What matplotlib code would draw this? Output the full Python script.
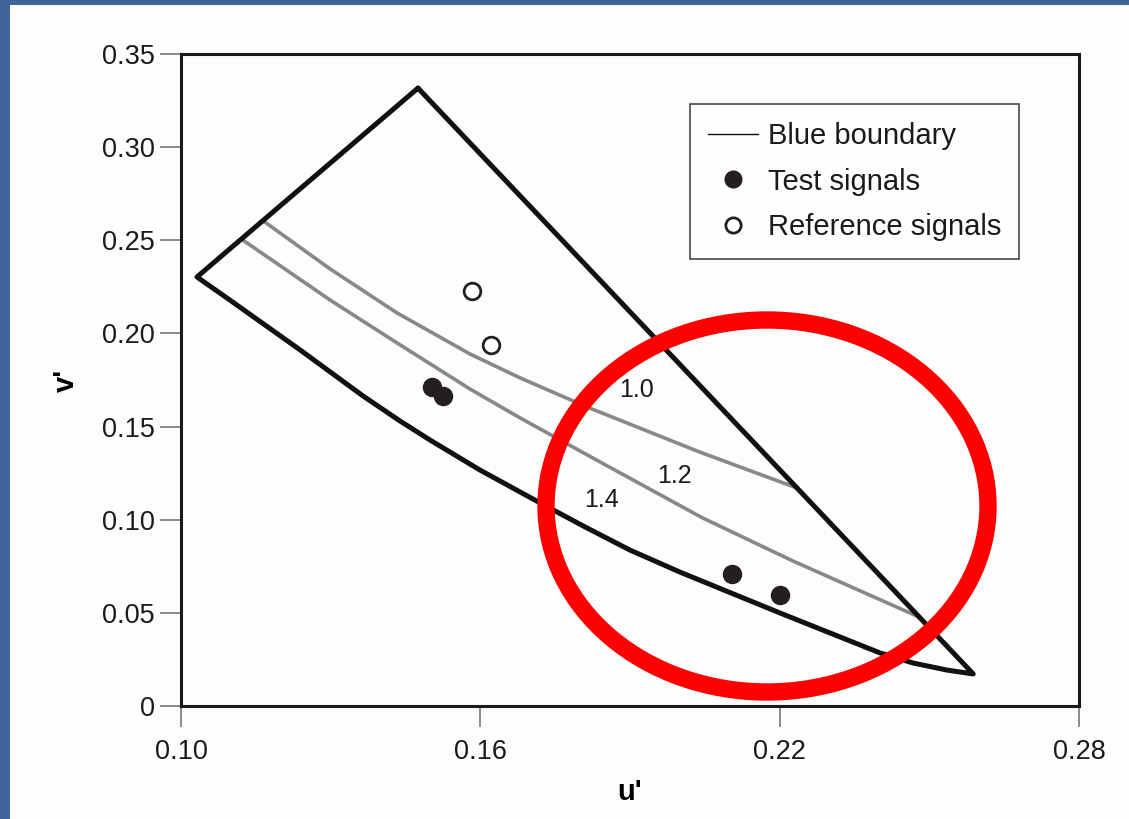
import matplotlib
matplotlib.use("Agg")
import matplotlib.pyplot as plt
from matplotlib.patches import Ellipse, Rectangle
from matplotlib.lines import Line2D

plt.rcParams['font.family'] = ['Liberation Sans', 'DejaVu Sans']

# blue boundary (apex -> left vertex -> lower curve -> right tip -> apex)
bound_u = [0.1475, 0.1032, 0.1098, 0.1239, 0.1365, 0.1439, 0.1499, 0.1599,
           0.1720, 0.1810, 0.1900, 0.2000, 0.2201, 0.2401, 0.2467, 0.2535,
           0.2588, 0.1475]
bound_v = [0.3317, 0.2303, 0.2179, 0.1911, 0.1664, 0.1530, 0.1428, 0.1267,
           0.1090, 0.0961, 0.0837, 0.0719, 0.0499, 0.0285, 0.0231, 0.0193,
           0.0172, 0.3317]

# iso-ratio curves
c10_u = [0.1168, 0.1299, 0.1433, 0.1579, 0.1680, 0.1814, 0.2040, 0.2235]
c10_v = [0.2598, 0.2346, 0.2110, 0.1890, 0.1761, 0.1605, 0.1363, 0.1170]
c12_u = [0.1124, 0.1299, 0.1433, 0.1579, 0.1680, 0.1840, 0.2046, 0.2227, 0.2475]
c12_v = [0.2501, 0.2179, 0.1949, 0.1702, 0.1546, 0.1310, 0.1009, 0.0778, 0.0483]

curve_labels = ['1.0', '1.2', '1.4']
label_u = [0.1914, 0.1990, 0.1842]
label_v = [0.1696, 0.1235, 0.1106]

test_u = [0.1503, 0.1525, 0.2104, 0.2201]
test_v = [0.1712, 0.1664, 0.0709, 0.0596]
ref_u = [0.1583, 0.1621]
ref_v = [0.2228, 0.1938]

xticks = [0.10, 0.16, 0.22, 0.28]
xtick_labels = ['0.10', '0.16', '0.22', '0.28']
yticks = [0, 0.05, 0.10, 0.15, 0.20, 0.25, 0.30, 0.35]
ytick_labels = ['0', '0.05', '0.10', '0.15', '0.20', '0.25', '0.30', '0.35']

fig = plt.figure(figsize=(11.29, 8.19), dpi=100)
fig.patch.set_facecolor('#41649a')

# white slide area behind everything
bg = fig.add_axes([0, 0, 1, 1], zorder=-1)
bg.set_axis_off()
bg.add_patch(Rectangle((10/1129, 0), 1, 1 - 5/819, transform=bg.transAxes,
                       facecolor='#fdfdfd', edgecolor='none'))

ax = fig.add_axes([181/1129, 113/819, 898/1129, 652/819], zorder=1)
ax.set_facecolor('#fdfdfd')

ax.plot(bound_u, bound_v, color='#111111', lw=3.6, solid_joinstyle='round',
        solid_capstyle='round', zorder=3)
ax.plot(c10_u, c10_v, color='#888888', lw=2.6, solid_joinstyle='round', zorder=2)
ax.plot(c12_u, c12_v, color='#888888', lw=2.6, solid_joinstyle='round', zorder=2)
for t, u, v in zip(curve_labels, label_u, label_v):
    ax.text(u, v, t, fontsize=18, ha='center', va='center', color='#1a1a1a')

ax.plot(test_u, test_v, 'o', ms=13, color='#231f20', zorder=4)
ax.plot(ref_u, ref_v, 'o', ms=12, mfc='white', mec='#231f20', mew=2, zorder=4)

# red highlight ring
ell = Ellipse((0.21746, 0.10736), 0.0886, 0.1997, fill=False, edgecolor='#ff0000',
              lw=12.5, zorder=5, clip_on=False)
ax.add_patch(ell)

ax.set_xlim(0.10, 0.28)
ax.set_ylim(0, 0.35)
ax.set_xticks(xticks)
ax.set_xticklabels(xtick_labels)
ax.set_yticks(yticks)
ax.set_yticklabels(ytick_labels)
ax.tick_params(direction='out', length=15, width=1.2, color='#777777',
               labelsize=19.5, pad=4, labelcolor='#1a1a1a')
ax.tick_params(axis='x', pad=9)
for s in ax.spines.values():
    s.set_linewidth(2.2)
    s.set_color('#1a1a1a')

ax.set_xlabel("u'", fontsize=21, fontweight='bold', labelpad=9)
ax.set_ylabel("v'", fontsize=21, fontweight='bold', labelpad=16)

handles = [Line2D([], [], color='#111111', lw=1),
           Line2D([], [], ls='', marker='o', ms=12, color='#231f20'),
           Line2D([], [], ls='', marker='o', ms=11, mfc='white', mec='#231f20', mew=2)]
leg = ax.legend(handles, ['Blue boundary', 'Test signals', 'Reference signals'],
                loc='upper left', bbox_to_anchor=(690/1129, 1 - 104/819),
                bbox_transform=fig.transFigure,
                borderaxespad=0, fontsize=21, frameon=True, fancybox=False,
                edgecolor='#1a1a1a', handlelength=1.7, handletextpad=0.35,
                labelspacing=0.6, borderpad=0.62)
leg.get_frame().set_linewidth(1.2)
for t in leg.get_texts():
    t.set_color('#1a1a1a')

fig.savefig('out.png', dpi=100, facecolor=fig.get_facecolor())
